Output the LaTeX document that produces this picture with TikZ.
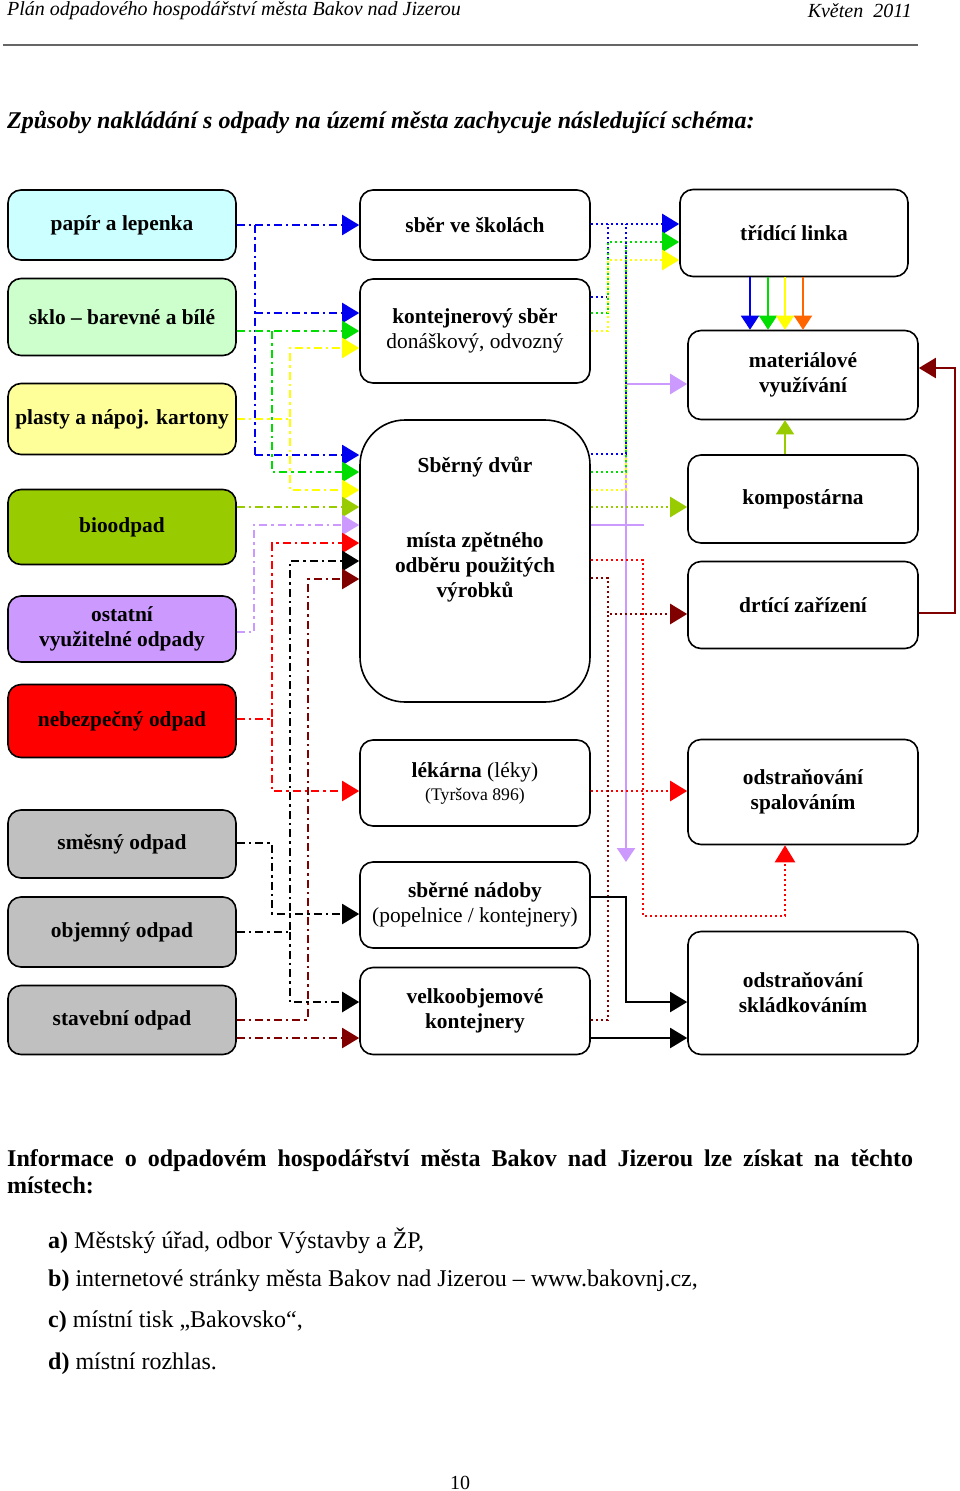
\documentclass[tikz,border=0pt]{standalone}
\usepackage{fontspec}
\setmainfont{Liberation Serif}
\usetikzlibrary{arrows.meta}
\newcommand\boxfont{\fontsize{21.4}{25}\selectfont}
\newcommand\smallboxfont{\fontsize{17.7}{20}\selectfont}
\newcommand\headfont{\fontsize{20}{24}\selectfont\itshape}
\newcommand\titlefont{\fontsize{24}{28}\selectfont\bfseries\itshape}
\newcommand\infofont{\fontsize{24}{27}\selectfont}
\definecolor{paperfill}{HTML}{CCFFFF}
\definecolor{glassfill}{HTML}{CCFFCC}
\definecolor{plasticfill}{HTML}{FFFF99}
\definecolor{biogreen}{HTML}{99CC00}
\definecolor{lavender}{HTML}{CC99FF}
\definecolor{wastegray}{HTML}{C0C0C0}
\definecolor{lineblue}{HTML}{0000EE}
\definecolor{linegreen}{HTML}{00DD00}
\definecolor{lineyellow}{HTML}{FFFF00}
\definecolor{linered}{HTML}{FF0000}
\definecolor{darkred}{HTML}{800000}
\definecolor{lineorange}{HTML}{FF6600}
\begin{document}
\begin{tikzpicture}[x=1pt,y=-1pt,
	txt/.style={inner sep=0pt},
	box/.style={draw,line width=1.6pt,rounded corners=13pt,align=center,font=\boxfont\bfseries,inner sep=2pt},
	lbox/.style={box,minimum width=228pt},
	mbox/.style={box,minimum width=230pt},
	rbox/.style={box,minimum width=230pt},
	dashdot/.style={line width=2pt,dash pattern=on 8pt off 4pt on 2.5pt off 4pt},
	dotline/.style={line width=2.5pt,dash pattern=on 2.5pt off 2.5pt},
	tip/.style={-{Triangle[length=17pt,width=20pt]}},
	downtip/.style={-{Triangle[length=14pt,width=18pt]}}]
\useasboundingbox (0,0) rectangle (960,1491);

\node[txt,anchor=west,font=\headfont] (head) at (7,11) {Plán odpadového hospodářství města Bakov nad Jizerou};
\node[txt,anchor=east,font=\headfont] (date) at (912,11) {Květen\ \ 2011};
\draw[line width=1.5pt,black!60] (3,45) -- (918,45);
\node[txt,anchor=west,font=\titlefont] (title) at (7,122) {Způsoby nakládání s odpady na území města zachycuje následující schéma:};

\node[lbox,fill=paperfill,minimum height=70pt] (papir) at (122,225) {papír a lepenka};
\node[lbox,fill=glassfill,minimum height=77pt] (sklo) at (122,317) {sklo -- barevné a bílé};
\node[lbox,fill=plasticfill,minimum height=71pt] (plasty) at (122,419) {plasty a nápoj. kartony};
\node[lbox,fill=biogreen,minimum height=75pt] (bio) at (122,527) {bioodpad};
\node[lbox,fill=lavender,minimum height=66pt] (ostatni) at (122,629) {ostatní\\využitelné odpady};
\node[lbox,fill=linered,minimum height=73pt] (nebezp) at (122,721) {nebezpečný odpad};
\node[lbox,fill=wastegray,minimum height=68pt] (smesny) at (122,844) {směsný odpad};
\node[lbox,fill=wastegray,minimum height=70pt] (objemny) at (122,932) {objemný odpad};
\node[lbox,fill=wastegray,minimum height=69pt] (stavebni) at (122,1020) {stavební odpad};

\node[mbox,minimum height=70pt] (skoly) at (475,225) {sběr ve školách};
\node[mbox,minimum height=104pt] (kontejner) at (475,331) {kontejnerový sběr\\\textmd{donáškový, odvozný}};
\node[mbox,minimum height=282pt,rounded corners=45pt] (dvur) at (475,561) {};
\node[txt,align=center,font=\boxfont\bfseries] (dvurtext) at (475,530) {Sběrný dvůr\\[50pt]místa zpětného\\odběru použitých\\výrobků};
\node[mbox,minimum height=86pt] (lekarna) at (475,783) {lékárna \textmd{(léky)}\\[-2pt]\textmd{\smallboxfont (Tyršova 896)}};
\node[mbox,minimum height=86pt] (nadoby) at (475,905) {sběrné nádoby\\\textmd{(popelnice / kontejnery)}};
\node[mbox,minimum height=87pt] (velko) at (475,1011) {velkoobjemové\\kontejnery};

\node[box,minimum width=228pt,minimum height=87pt] (linka) at (794,233) {třídící linka};
\node[rbox,minimum height=89pt] (material) at (803,375) {materiálové\\využívání};
\node[rbox,minimum height=88pt] (kompost) at (803,499) {kompostárna};
\node[rbox,minimum height=87pt] (drtic) at (803,605) {drtící zařízení};
\node[rbox,minimum height=105pt] (spalov) at (803,792) {odstraňování\\spalováním};
\node[rbox,minimum height=123pt] (skladk) at (803,993) {odstraňování\\skládkováním};

\draw[dashdot,lineblue,tip] (papir.east) -- (skoly.west);
\draw[dashdot,lineblue] (255,225) -- (255,455);
\draw[dashdot,lineblue,tip] (255,313) -- (kontejner.west |- 0,313);
\draw[dashdot,lineblue,tip] (255,455) -- (dvur.west |- 0,455);
\draw[dashdot,linegreen,tip] (sklo.east |- 0,331) -- (kontejner.west |- 0,331);
\draw[dashdot,linegreen,tip] (272,331) |- (dvur.west |- 0,472);
\draw[dashdot,lineyellow,tip] (plasty.east) -| (290,348) -- (kontejner.west |- 0,348);
\draw[dashdot,lineyellow,tip] (290,419) |- (dvur.west |- 0,490);
\draw[dashdot,biogreen,tip] (bio.east |- 0,507) -- (dvur.west |- 0,507);
\draw[dashdot,lavender,tip] (ostatni.east |- 0,632) -| (254,525) -- (dvur.west |- 0,525);
\draw[dashdot,linered,tip] (nebezp.east |- 0,719) -| (272,543) -- (dvur.west |- 0,543);
\draw[dashdot,linered,tip] (272,719) |- (lekarna.west |- 0,791);
\draw[dashdot,black,line width=2.5pt,tip] (objemny.east) -| (290,561) -- (dvur.west |- 0,561);
\draw[dashdot,black,line width=2.5pt,tip] (290,932) |- (velko.west |- 0,1002);
\draw[dashdot,black,tip] (smesny.east |- 0,843) -| (272,914) -- (nadoby.west |- 0,914);
\draw[dashdot,darkred,tip] (stavebni.east |- 0,1020) -| (308,579) -- (dvur.west |- 0,579);
\draw[dashdot,darkred,tip] (stavebni.east |- 0,1038) -- (velko.west |- 0,1038);

\draw[line width=2.5pt,lavender,tip] (626,384) -- (material.west |- 0,384);
\draw[line width=2.5pt,lavender,downtip] (626,384) -- (626,862);
\draw[line width=2.5pt,lavender] (dvur.east |- 0,525) -- (644,525);
\draw[dotline,lineblue,tip] (skoly.east |- 0,224) -- (linka.west |- 0,224);
\draw[dotline,lineblue] (kontejner.east |- 0,297) -| (608,224);
\draw[dotline,linegreen,tip] (kontejner.east |- 0,313) -| (608,242) -- (linka.west |- 0,242);
\draw[dotline,lineyellow,tip] (kontejner.east |- 0,331) -| (608,260) -- (linka.west |- 0,260);
\draw[dotline,lineyellow] (dvur.east |- 0,490) -| (626,260);
\draw[dotline,linegreen] (dvur.east |- 0,472) -| (626,242);
\draw[dotline,lineblue] (dvur.east |- 0,454) -| (626,224);
\draw[dotline,biogreen,tip] (dvur.east |- 0,507) -- (kompost.west |- 0,507);
\draw[dotline,linered,tip] (dvur.east |- 0,560) -| (643,916) -| (spalov.south -| 785,0);
\draw[dotline,linered,tip] (lekarna.east |- 0,791) -- (spalov.west |- 0,791);
\draw[dotline,darkred,tip] (dvur.east |- 0,578) -| (608,614) -- (drtic.west |- 0,614);
\draw[dotline,darkred] (velko.east |- 0,1020) -| (608,614);
\draw[line width=2pt,black,tip] (nadoby.east |- 0,897) -| (626,1002) -- (skladk.west |- 0,1002);
\draw[line width=2pt,black,tip] (velko.east |- 0,1038) -- (skladk.west |- 0,1038);

\draw[line width=2pt,lineblue,downtip] (linka.south -| 750,0) -- (material.north -| 750,0);
\draw[line width=2pt,linegreen,downtip] (linka.south -| 768,0) -- (material.north -| 768,0);
\draw[line width=2pt,lineyellow,downtip] (linka.south -| 785,0) -- (material.north -| 785,0);
\draw[line width=2pt,lineorange,downtip] (linka.south -| 803,0) -- (material.north -| 803,0);
\draw[line width=2pt,biogreen,downtip] (kompost.north -| 785,0) -- (material.south -| 785,0);
\draw[line width=2pt,darkred,tip] (drtic.east |- 0,613) -| (955,368) -- (material.east |- 0,368);

\node[txt,anchor=north west,text width=906pt,align=justify,font=\infofont\bfseries] (info) at (7,1149) {Informace o odpadovém hospodářství města Bakov nad Jizerou lze získat na těchto\linebreak místech:};
\node[txt,anchor=west,font=\infofont] (itema) at (48,1241) {\textbf{a)} Městský úřad, odbor Výstavby a ŽP,};
\node[txt,anchor=west,font=\infofont] (itemb) at (48,1281) {\textbf{b)} internetové stránky města Bakov nad Jizerou -- www.bakovnj.cz,};
\node[txt,anchor=west,font=\infofont] (itemc) at (48,1322) {\textbf{c)} místní tisk „Bakovsko“,};
\node[txt,anchor=west,font=\infofont] (itemd) at (48,1364) {\textbf{d)} místní rozhlas.};
\node[txt,font=\fontsize{20}{24}\selectfont] (page) at (460,1483) {10};
\end{tikzpicture}
\end{document}
